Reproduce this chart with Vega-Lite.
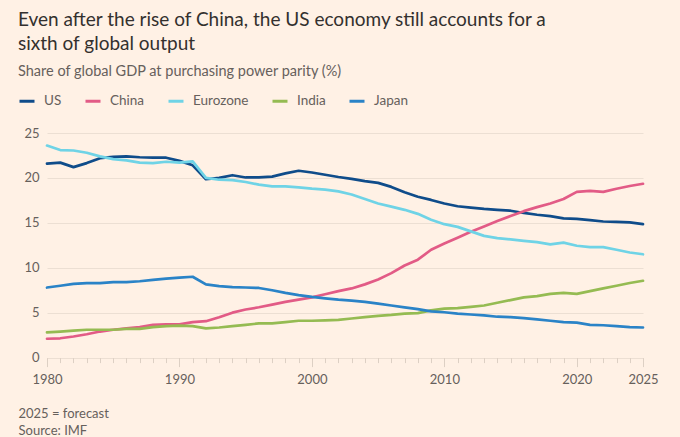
{
  "$schema": "https://vega.github.io/schema/vega-lite/v6.json",
  "autosize": "none",
  "width": 596,
  "height": 224.6,
  "padding": {"left": 47, "top": 133, "right": 37, "bottom": 79.4},
  "background": "#FFF1E5",
  "title": {
    "text": ["Even after the rise of China, the US economy still accounts for a", "sixth of global output"],
    "subtitle": "Share of global GDP at purchasing power parity (%)",
    "anchor": "start",
    "frame": "group",
    "dx": -29,
    "offset": 14,
    "font": "Lato",
    "fontSize": 19,
    "fontWeight": "normal",
    "color": "#33302e",
    "lineHeight": 23.5,
    "subtitleFont": "Lato",
    "subtitleFontSize": 14.5,
    "subtitleColor": "#66605c",
    "subtitlePadding": 11
  },
  "data": {
    "values": [
      {"year": 1980, "US": 21.6, "China": 2.1, "Eurozone": 23.6, "India": 2.8, "Japan": 7.8},
      {"year": 1981, "US": 21.7, "China": 2.15, "Eurozone": 23.1, "India": 2.9, "Japan": 8.0},
      {"year": 1982, "US": 21.2, "China": 2.35, "Eurozone": 23.05, "India": 3.0, "Japan": 8.2},
      {"year": 1983, "US": 21.65, "China": 2.6, "Eurozone": 22.8, "India": 3.1, "Japan": 8.3},
      {"year": 1984, "US": 22.2, "China": 2.9, "Eurozone": 22.4, "India": 3.1, "Japan": 8.3},
      {"year": 1985, "US": 22.35, "China": 3.1, "Eurozone": 22.1, "India": 3.1, "Japan": 8.4},
      {"year": 1986, "US": 22.4, "China": 3.25, "Eurozone": 21.95, "India": 3.2, "Japan": 8.4},
      {"year": 1987, "US": 22.3, "China": 3.4, "Eurozone": 21.7, "India": 3.2, "Japan": 8.5},
      {"year": 1988, "US": 22.25, "China": 3.65, "Eurozone": 21.65, "India": 3.4, "Japan": 8.65},
      {"year": 1989, "US": 22.25, "China": 3.7, "Eurozone": 21.8, "India": 3.5, "Japan": 8.8},
      {"year": 1990, "US": 21.9, "China": 3.7, "Eurozone": 21.7, "India": 3.55, "Japan": 8.9},
      {"year": 1991, "US": 21.4, "China": 3.95, "Eurozone": 21.85, "India": 3.5, "Japan": 9.0},
      {"year": 1992, "US": 19.85, "China": 4.05, "Eurozone": 20.0, "India": 3.25, "Japan": 8.15},
      {"year": 1993, "US": 20.0, "China": 4.5, "Eurozone": 19.8, "India": 3.35, "Japan": 7.95},
      {"year": 1994, "US": 20.3, "China": 5.0, "Eurozone": 19.75, "India": 3.5, "Japan": 7.85},
      {"year": 1995, "US": 20.05, "China": 5.35, "Eurozone": 19.55, "India": 3.65, "Japan": 7.8},
      {"year": 1996, "US": 20.05, "China": 5.6, "Eurozone": 19.25, "India": 3.8, "Japan": 7.75},
      {"year": 1997, "US": 20.15, "China": 5.9, "Eurozone": 19.05, "India": 3.8, "Japan": 7.5},
      {"year": 1998, "US": 20.5, "China": 6.2, "Eurozone": 19.05, "India": 3.95, "Japan": 7.2},
      {"year": 1999, "US": 20.8, "China": 6.45, "Eurozone": 18.95, "India": 4.1, "Japan": 6.95},
      {"year": 2000, "US": 20.6, "China": 6.7, "Eurozone": 18.8, "India": 4.1, "Japan": 6.75},
      {"year": 2001, "US": 20.35, "China": 7.05, "Eurozone": 18.7, "India": 4.15, "Japan": 6.6},
      {"year": 2002, "US": 20.1, "China": 7.4, "Eurozone": 18.5, "India": 4.2, "Japan": 6.45},
      {"year": 2003, "US": 19.9, "China": 7.7, "Eurozone": 18.15, "India": 4.35, "Japan": 6.35},
      {"year": 2004, "US": 19.65, "China": 8.15, "Eurozone": 17.65, "India": 4.5, "Japan": 6.2},
      {"year": 2005, "US": 19.45, "China": 8.7, "Eurozone": 17.15, "India": 4.65, "Japan": 6.0},
      {"year": 2006, "US": 19.0, "China": 9.4, "Eurozone": 16.8, "India": 4.75, "Japan": 5.8},
      {"year": 2007, "US": 18.4, "China": 10.25, "Eurozone": 16.45, "India": 4.9, "Japan": 5.6},
      {"year": 2008, "US": 17.9, "China": 10.9, "Eurozone": 16.0, "India": 4.95, "Japan": 5.4},
      {"year": 2009, "US": 17.55, "China": 12.0, "Eurozone": 15.35, "India": 5.25, "Japan": 5.15},
      {"year": 2010, "US": 17.15, "China": 12.7, "Eurozone": 14.85, "India": 5.45, "Japan": 5.05},
      {"year": 2011, "US": 16.85, "China": 13.35, "Eurozone": 14.55, "India": 5.5, "Japan": 4.9},
      {"year": 2012, "US": 16.7, "China": 14.0, "Eurozone": 14.05, "India": 5.65, "Japan": 4.8},
      {"year": 2013, "US": 16.55, "China": 14.6, "Eurozone": 13.55, "India": 5.8, "Japan": 4.7},
      {"year": 2014, "US": 16.45, "China": 15.2, "Eurozone": 13.3, "India": 6.1, "Japan": 4.55},
      {"year": 2015, "US": 16.35, "China": 15.75, "Eurozone": 13.15, "India": 6.4, "Japan": 4.5},
      {"year": 2016, "US": 16.1, "China": 16.3, "Eurozone": 13.0, "India": 6.7, "Japan": 4.4},
      {"year": 2017, "US": 15.9, "China": 16.75, "Eurozone": 12.85, "India": 6.85, "Japan": 4.25},
      {"year": 2018, "US": 15.75, "China": 17.15, "Eurozone": 12.6, "India": 7.1, "Japan": 4.1},
      {"year": 2019, "US": 15.5, "China": 17.65, "Eurozone": 12.8, "India": 7.2, "Japan": 3.95},
      {"year": 2020, "US": 15.45, "China": 18.45, "Eurozone": 12.45, "India": 7.1, "Japan": 3.9},
      {"year": 2021, "US": 15.3, "China": 18.55, "Eurozone": 12.3, "India": 7.4, "Japan": 3.65},
      {"year": 2022, "US": 15.15, "China": 18.45, "Eurozone": 12.3, "India": 7.7, "Japan": 3.6},
      {"year": 2023, "US": 15.1, "China": 18.8, "Eurozone": 12.0, "India": 8.0, "Japan": 3.5},
      {"year": 2024, "US": 15.05, "China": 19.1, "Eurozone": 11.7, "India": 8.3, "Japan": 3.4},
      {"year": 2025, "US": 14.85, "China": 19.35, "Eurozone": 11.5, "India": 8.55, "Japan": 3.35}
    ]
  },
  "transform": [
    {"fold": ["US", "China", "Eurozone", "India", "Japan"], "as": ["economy", "share"]}
  ],
  "mark": {"type": "line", "strokeWidth": 2.7, "strokeJoin": "round", "strokeCap": "round"},
  "encoding": {
    "x": {
      "field": "year",
      "type": "quantitative",
      "scale": {"domain": [1980, 2025], "nice": false, "zero": false},
      "axis": {
        "title": ["2025 = forecast", "Source: IMF"],
        "titleAnchor": "start",
        "titleAlign": "left",
        "titleBaseline": "alphabetic",
        "titleX": -29,
        "titleY": 60,
        "titleFont": "Lato",
        "titleFontSize": 13,
        "titleFontWeight": "normal",
        "titleColor": "#66605c",
        "titleLineHeight": 16.5,
        "values": [1980, 1981, 1982, 1983, 1984, 1985, 1986, 1987, 1988, 1989, 1990, 1991, 1992, 1993, 1994, 1995, 1996, 1997, 1998, 1999, 2000, 2001, 2002, 2003, 2004, 2005, 2006, 2007, 2008, 2009, 2010, 2011, 2012, 2013, 2014, 2015, 2016, 2017, 2018, 2019, 2020, 2021, 2022, 2023, 2024, 2025],
        "labelExpr": "datum.value % 10 === 0 || datum.value === 2025 ? datum.value : ''",
        "labelOverlap": false,
        "labelFlush": false,
        "labelFont": "Lato",
        "labelFontSize": 13,
        "labelColor": "#66605c",
        "labelPadding": 7,
        "grid": false,
        "domain": false,
        "tickColor": "#ddd0c4",
        "tickWidth": 1,
        "tickSize": {"condition": {"test": "datum.value % 10 === 0 || datum.value === 2025", "value": 9}, "value": 5}
      }
    },
    "y": {
      "field": "share",
      "type": "quantitative",
      "scale": {"domain": [0, 25], "nice": false},
      "axis": {
        "title": null,
        "values": [0, 5, 10, 15, 20, 25],
        "grid": true,
        "gridColor": "#ecdfd3",
        "gridWidth": 1,
        "domain": false,
        "ticks": false,
        "labelPadding": 8,
        "labelFont": "Lato",
        "labelFontSize": 13,
        "labelColor": "#66605c"
      }
    },
    "color": {
      "field": "economy",
      "type": "nominal",
      "sort": ["US", "China", "Eurozone", "India", "Japan"],
      "scale": {
        "domain": ["US", "China", "Eurozone", "India", "Japan"],
        "range": ["#0f4c8a", "#e25b86", "#6fd3e6", "#95bb52", "#2a83c7"]
      },
      "legend": {
        "title": null,
        "orient": "none",
        "legendX": -29,
        "legendY": -41,
        "direction": "horizontal",
        "symbolType": "stroke",
        "symbolSize": 225,
        "symbolStrokeWidth": 3,
        "labelFont": "Lato",
        "labelFontSize": 13.5,
        "labelColor": "#66605c",
        "columnPadding": 17,
        "labelOffset": 8
      }
    }
  },
  "config": {
    "view": {"stroke": null}
  }
}
